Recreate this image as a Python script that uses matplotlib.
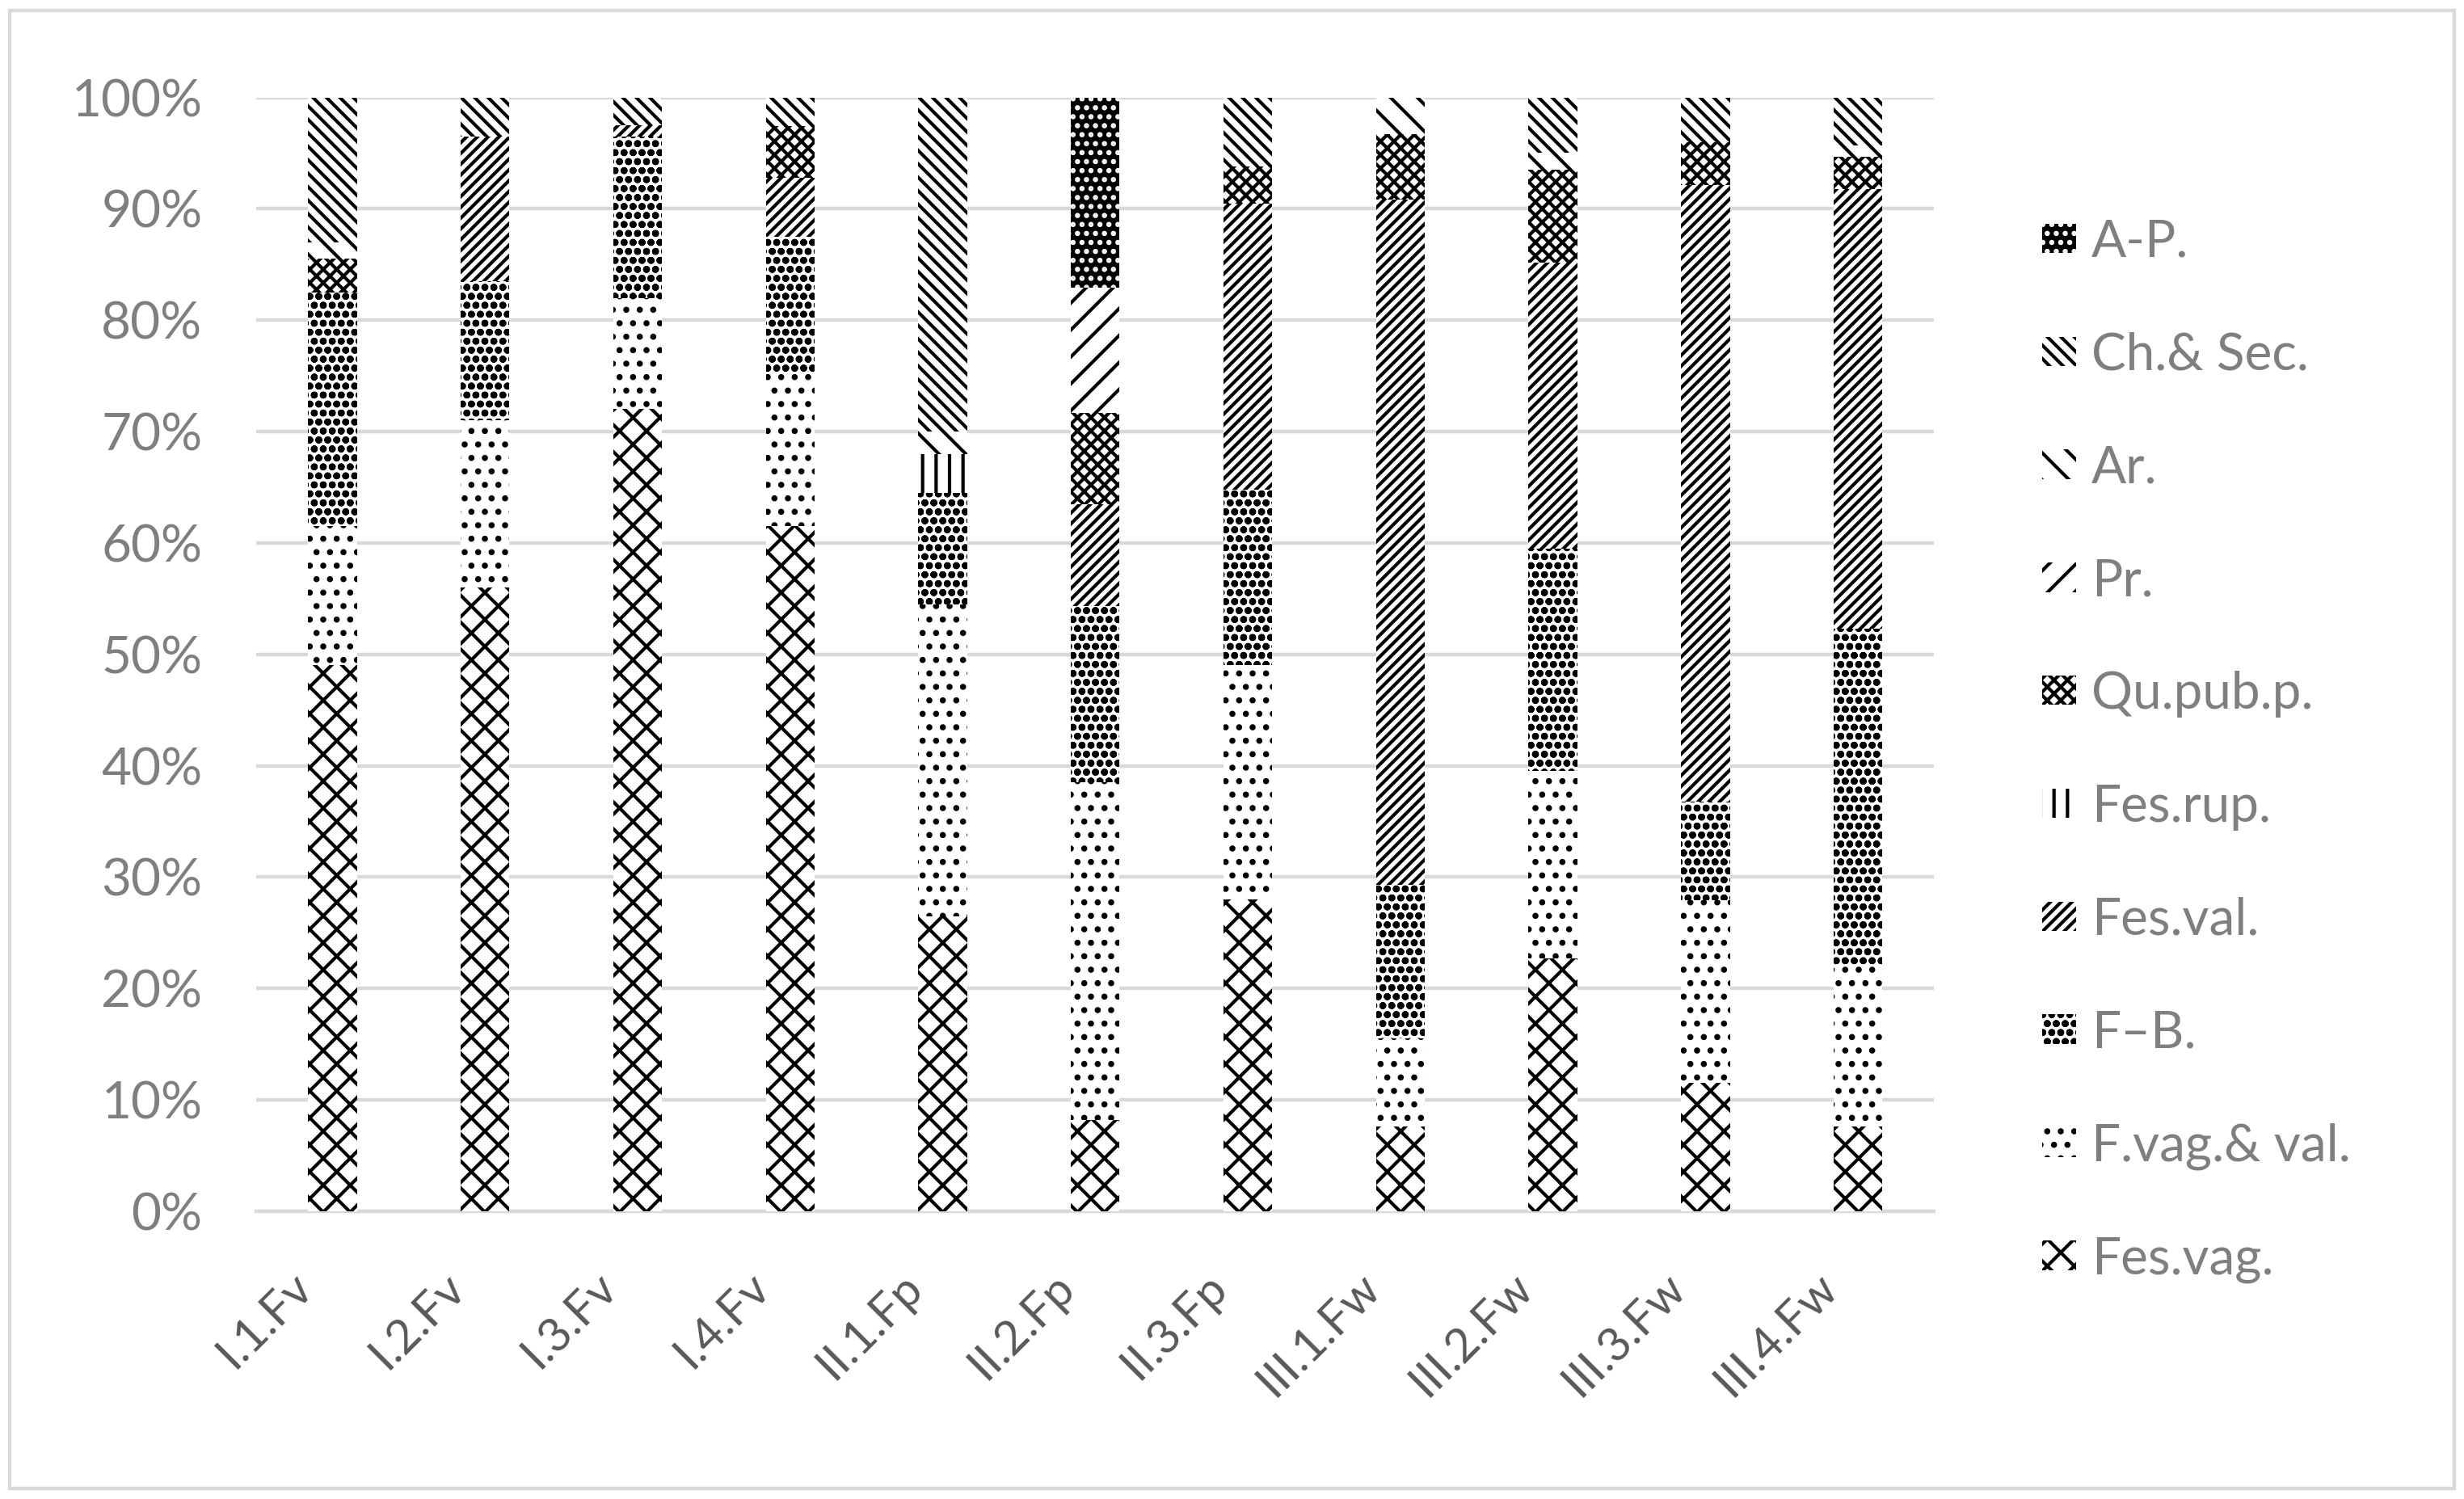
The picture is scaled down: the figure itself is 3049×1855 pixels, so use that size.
import numpy as np
import matplotlib
matplotlib.use("Agg")
import matplotlib.pyplot as plt
from matplotlib.patches import Patch, Rectangle
from matplotlib.ticker import PercentFormatter
from matplotlib.transforms import ScaledTranslation

plt.rcParams['font.family'] = ['Lato', 'DejaVu Sans']
plt.rcParams['hatch.linewidth'] = 1.5

sites = ["I.1.Fv", "I.2.Fv", "I.3.Fv", "I.4.Fv", "II.1.Fp", "II.2.Fp",
         "II.3.Fp", "III.1.Fw", "III.2.Fw", "III.3.Fw", "III.4.Fw"]

# shares (%) per site, bottom to top of each bar
fes_vag = [49.0, 56.0, 72.0, 61.5, 26.5, 8.2, 28.0, 7.6, 22.7, 11.5, 7.6]
f_vag_val = [12.5, 15.0, 10.0, 13.8, 28.0, 30.3, 21.0, 7.9, 16.8, 16.4, 14.5]
f_b = [21.0, 12.5, 14.5, 12.2, 10.0, 15.8, 15.8, 13.8, 20.0, 8.9, 30.2]
fes_val = [0.0, 13.0, 1.0, 5.3, 0.0, 9.2, 25.7, 61.5, 25.7, 55.3, 39.5]
fes_rup = [0.0, 0.0, 0.0, 0.0, 3.5, 0.0, 0.0, 0.0, 0.0, 0.0, 0.0]
qu_pub = [3.0, 0.0, 0.0, 4.6, 0.0, 8.2, 3.3, 5.9, 8.3, 3.9, 2.9]
pr = [0.0, 0.0, 0.0, 0.0, 0.0, 11.2, 0.0, 0.0, 0.0, 0.0, 0.0]
ar = [1.5, 0.0, 0.0, 0.0, 2.0, 0.0, 0.0, 3.3, 1.5, 0.0, 1.0]
ch_sec = [13.0, 3.5, 2.5, 2.6, 30.0, 0.0, 6.2, 0.0, 5.0, 4.0, 4.3]
a_p = [0.0, 0.0, 0.0, 0.0, 0.0, 17.1, 0.0, 0.0, 0.0, 0.0, 0.0]

series = [
    ("Fes.vag.", fes_vag, "white", "black", "xx"),
    ("F.vag.& val.", f_vag_val, "white", "black", ".."),
    ("F\u2013B.", f_b, "white", "black", "ooo"),
    ("Fes.val.", fes_val, "white", "black", "/////"),
    ("Fes.rup.", fes_rup, "white", "black", "||"),
    ("Qu.pub.p.", qu_pub, "white", "black", "xxxx"),
    ("Pr.", pr, "white", "black", "//"),
    ("Ar.", ar, "white", "black", "\\\\"),
    ("Ch.& Sec.", ch_sec, "white", "black", "\\\\\\\\"),
    ("A-P.", a_p, "black", "white", "..."),
]

fig = plt.figure(figsize=(15.245, 9.275), dpi=200)
ax = fig.add_axes([0.104, 0.192, 0.681, 0.743])

x = np.arange(len(sites))
bottom = np.zeros(len(sites))
handles = []
for name, vals, fc, hc, hatch in series:
    vals = np.array(vals)
    ax.bar(x, vals, 0.32, bottom=bottom, color=fc, edgecolor=hc,
           hatch=hatch, linewidth=0, zorder=3)
    bottom += vals
    handles.append(Patch(facecolor=fc, edgecolor=hc, hatch=hatch, linewidth=0))

ax.set_ylim(0, 100)
ax.set_xlim(-0.5, len(sites) - 0.5)
ax.set_yticks(np.arange(0, 101, 10))
ax.yaxis.set_major_formatter(PercentFormatter(decimals=0))
ax.grid(axis="y", color="#d9d9d9", linewidth=1.6, zorder=0)
ax.set_axisbelow(True)
for s in ["top", "right", "left"]:
    ax.spines[s].set_visible(False)
ax.spines["bottom"].set_color("#d9d9d9")
ax.spines["bottom"].set_linewidth(1.6)
ax.tick_params(axis="y", length=0, labelsize=23, colors="#7f7f7f", pad=24)
ax.tick_params(axis="x", length=0, labelsize=21, colors="#595959", pad=24)
ax.set_xticks(x)
ax.set_xticklabels(sites, rotation=45, ha="right", rotation_mode="anchor")
shift = ScaledTranslation(-19 / 72, 0, fig.dpi_scale_trans)
for lab in ax.get_xticklabels():
    lab.set_transform(lab.get_transform() + shift)

names = [s[0] for s in series]
fig.legend(handles[::-1], names[::-1], loc="upper left",
           bbox_to_anchor=(0.81, 0.885), frameon=False, fontsize=23,
           labelcolor="#7f7f7f", labelspacing=1.28, handlelength=0.65,
           handleheight=0.5, handletextpad=0.3)

fig.add_artist(Rectangle((0.004, 0.007), 0.992, 0.986, transform=fig.transFigure,
                         fill=False, edgecolor="#d9d9d9", linewidth=1.6))

fig.savefig("out.png", dpi=200)
